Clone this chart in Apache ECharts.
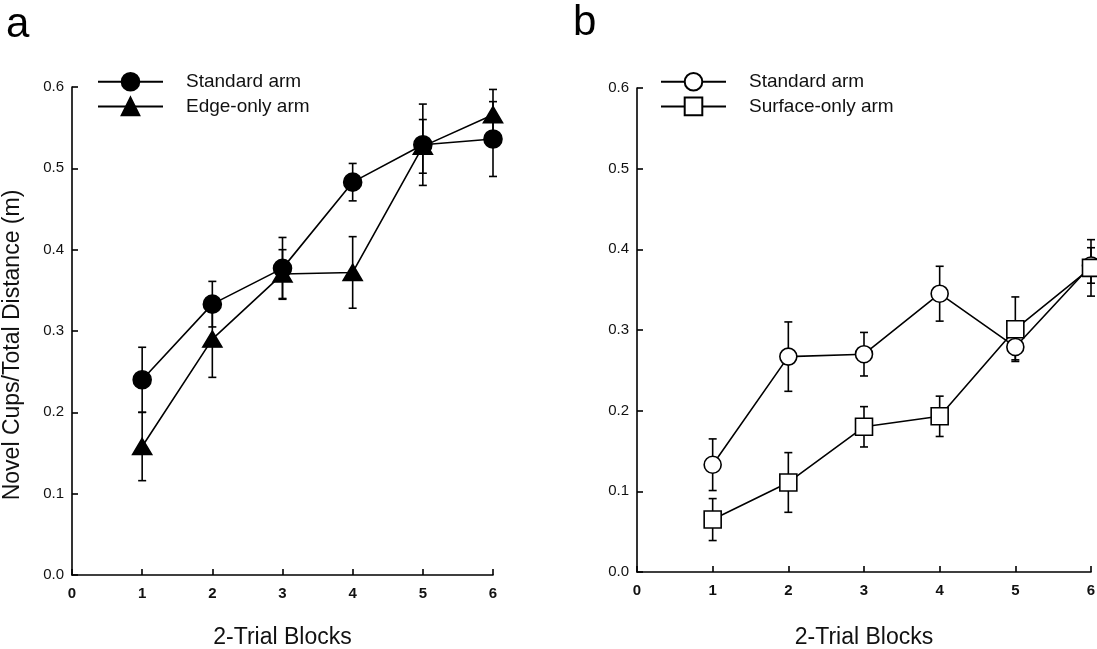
<!DOCTYPE html>
<html>
<head>
<meta charset="utf-8">
<script src="https://cdn.jsdelivr.net/npm/echarts@6/dist/echarts.min.js"></script>
<style>
  html, body { margin: 0; padding: 0; background: #fff; }
  #chart { width: 1097px; height: 649px; }
</style>
</head>
<body>
<div id="chart"></div>
<script>
// 2-trial blocks, same for both panels
const blocks = [1, 2, 3, 4, 5, 6]
const yTicks = [0, 0.1, 0.2, 0.3, 0.4, 0.5, 0.6]

// panel a
const aStandardMean = [0.240, 0.333, 0.377, 0.483, 0.529, 0.536]
const aStandardSem = [0.040, 0.028, 0.038, 0.023, 0.050, 0.046]
const aEdgeMean = [0.158, 0.290, 0.370, 0.372, 0.527, 0.566]
const aEdgeSem = [0.042, 0.047, 0.030, 0.044, 0.033, 0.031]

// panel b
const bStandardMean = [0.133, 0.267, 0.270, 0.345, 0.279, 0.380]
const bStandardSem = [0.032, 0.043, 0.027, 0.034, 0.016, 0.022]
const bSurfaceMean = [0.065, 0.111, 0.180, 0.193, 0.301, 0.377]
const bSurfaceSem = [0.026, 0.037, 0.025, 0.025, 0.040, 0.035]

const FONT = '"Liberation Sans", Arial, Helvetica, sans-serif'
const INK = '#000'

const points = (means) => blocks.map((b, i) => [b, means[i]])
const bars = (means, sems) => blocks.map((b, i) => [b, means[i], sems[i]])

const errorBarItem = (params, api) => {
  const x = api.value(0)
  const y = api.value(1)
  const e = api.value(2)
  const top = api.coord([x, y + e])
  const bot = api.coord([x, y - e])
  const hw = 4
  const style = { stroke: INK, lineWidth: 1.6 }
  return {
    type: 'group',
    children: [
      { type: 'line', shape: { x1: top[0], y1: top[1], x2: bot[0], y2: bot[1] }, style },
      { type: 'line', shape: { x1: top[0] - hw, y1: top[1], x2: top[0] + hw, y2: top[1] }, style },
      { type: 'line', shape: { x1: bot[0] - hw, y1: bot[1], x2: bot[0] + hw, y2: bot[1] }, style }
    ]
  }
}

const errorSeries = (name, idx, means, sems) => ({
  name: name + ' sem',
  type: 'custom',
  xAxisIndex: idx,
  yAxisIndex: idx,
  renderItem: errorBarItem,
  encode: { x: 0, y: 1 },
  data: bars(means, sems),
  z: 1,
  silent: true
})

const lineSeries = (name, idx, means, symbol, size, fill) => ({
  name: name,
  type: 'line',
  xAxisIndex: idx,
  yAxisIndex: idx,
  data: points(means),
  symbol: symbol,
  symbolSize: size,
  showAllSymbol: true,
  lineStyle: { color: INK, width: 1.6 },
  itemStyle: { color: fill, borderColor: INK, borderWidth: 1.6, opacity: 1 },
  z: 3,
  animation: false
})

const xAxisFor = (idx, gap) => ({
  type: 'value',
  gridIndex: idx,
  min: 0,
  max: 6,
  interval: 1,
  name: '2-Trial Blocks',
  nameLocation: 'middle',
  nameGap: gap,
  nameTextStyle: { fontFamily: FONT, fontSize: 23, color: '#111' },
  axisLine: { lineStyle: { color: INK, width: 1.6 } },
  axisTick: { inside: true, length: 6, lineStyle: { color: INK, width: 1.6 } },
  axisLabel: { fontFamily: FONT, fontSize: 15, fontWeight: 'bold', color: '#111', margin: 11 },
  splitLine: { show: false }
})

const yAxisFor = (idx, withName) => ({
  type: 'value',
  gridIndex: idx,
  min: yTicks[0],
  max: yTicks[yTicks.length - 1],
  interval: 0.1,
  name: withName ? 'Novel Cups/Total Distance (m)' : '',
  nameLocation: 'middle',
  nameGap: 48,
  // right padding pushes the rotated title a little down the axis
  nameTextStyle: { fontFamily: FONT, fontSize: 23, color: '#111', padding: [0, 28, 0, 0] },
  axisLine: { show: true, lineStyle: { color: INK, width: 1.6 } },
  axisTick: { show: true, inside: true, length: 6, lineStyle: { color: INK, width: 1.6 } },
  axisLabel: { fontFamily: FONT, fontSize: 15, color: '#111', margin: 8, formatter: (v) => v.toFixed(1) },
  splitLine: { show: false }
})

const legendFor = (left, names) => ({
  left: left,
  top: 67,
  orient: 'vertical',
  data: names,
  itemWidth: 65,
  itemHeight: 22,
  itemGap: 5,
  selectedMode: false,
  formatter: (n) => n.slice(3),
  textStyle: { fontFamily: FONT, fontSize: 19, color: '#111', padding: [0, 0, 0, 18] }
})

const option = {
  backgroundColor: '#fff',
  animation: false,
  title: [
    { text: 'a', left: 6, top: 4, padding: 0, textStyle: { fontFamily: FONT, fontSize: 42, fontWeight: 'normal', color: INK } },
    { text: 'b', left: 573, top: 2, padding: 0, textStyle: { fontFamily: FONT, fontSize: 42, fontWeight: 'normal', color: INK } }
  ],
  legend: [
    legendFor(92, ['a: Standard arm', 'a: Edge-only arm']),
    legendFor(655, ['b: Standard arm', 'b: Surface-only arm'])
  ],
  grid: [
    { left: 72, top: 87, width: 421, height: 488, outerBoundsMode: 'none' },
    { left: 637, top: 88, width: 454, height: 484, outerBoundsMode: 'none' }
  ],
  xAxis: [xAxisFor(0, 51), xAxisFor(1, 54)],
  yAxis: [yAxisFor(0, true), yAxisFor(1, false)],
  series: [
    errorSeries('a: Standard arm', 0, aStandardMean, aStandardSem),
    errorSeries('a: Edge-only arm', 0, aEdgeMean, aEdgeSem),
    lineSeries('a: Standard arm', 0, aStandardMean, 'circle', 18, INK),
    lineSeries('a: Edge-only arm', 0, aEdgeMean, 'triangle', [19, 16], INK),
    errorSeries('b: Standard arm', 1, bStandardMean, bStandardSem),
    errorSeries('b: Surface-only arm', 1, bSurfaceMean, bSurfaceSem),
    lineSeries('b: Standard arm', 1, bStandardMean, 'circle', 17, '#fff'),
    lineSeries('b: Surface-only arm', 1, bSurfaceMean, 'rect', 17, '#fff')
  ]
}

const chart = echarts.init(document.getElementById('chart'))
chart.setOption(option)
</script>
</body>
</html>
